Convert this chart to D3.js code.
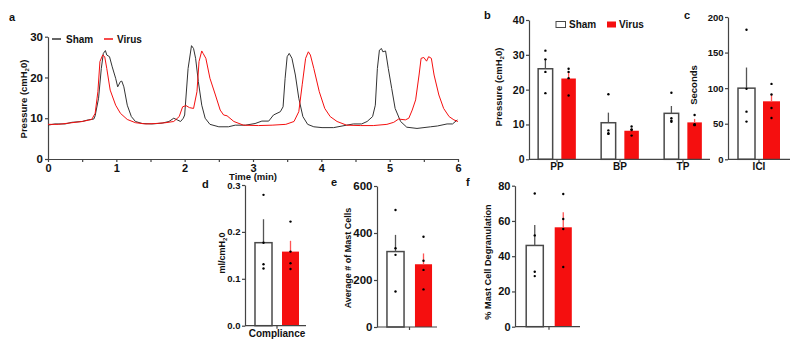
<!DOCTYPE html>
<html>
<head>
<meta charset="utf-8">
<script src="https://cdn.jsdelivr.net/npm/d3@7"></script>
<style>
  body { margin: 0; background: #fff; }
  svg text { font-family: "Liberation Sans", Arial, sans-serif; font-weight: bold; fill: #111; }
  .axis path, .axis line { stroke: #444; stroke-width: 1.2; }
</style>
</head>
<body>
<div id="chart"></div>
<script>
var width = 800, height = 347;

// panel a: pressure traces, [time (min), pressure (cmH2O)]
var shamTrace = [[0,8.3],[0.1,8.6],[0.25,8.6],[0.35,9.0],[0.5,9.2],[0.59,9.6],[0.67,9.8],[0.69,10.6],[0.74,14.9],[0.78,22.2],[0.81,25.9],[0.84,26.6],[0.86,25.5],[0.9,25.1],[0.94,22.6],[0.99,19.8],[1.02,17.7],[1.06,19.0],[1.08,19.1],[1.11,17.7],[1.16,13.2],[1.22,10.4],[1.28,9.2],[1.38,8.7],[1.52,8.6],[1.67,8.8],[1.77,9.2],[1.84,10.0],[1.89,9.6],[1.94,9.2],[1.98,10.0],[2.0,10.8],[2.05,22.2],[2.1,27.8],[2.13,27.1],[2.16,24.7],[2.2,19.0],[2.25,13.2],[2.3,10.0],[2.37,8.5],[2.5,7.9],[2.64,7.9],[2.74,8.3],[2.89,8.3],[3.03,8.7],[3.13,9.3],[3.23,9.3],[3.3,10.8],[3.4,11.6],[3.44,12.8],[3.47,19.8],[3.5,25.1],[3.53,25.9],[3.57,24.7],[3.62,20.6],[3.67,14.9],[3.73,10.4],[3.8,8.5],[3.89,7.9],[4.01,7.7],[4.18,7.7],[4.37,8.3],[4.47,8.6],[4.59,8.6],[4.67,9.2],[4.75,10.4],[4.79,13.2],[4.82,22.2],[4.85,26.7],[4.88,27.1],[4.9,26.3],[4.94,26.5],[4.98,22.2],[5.03,17.3],[5.08,12.4],[5.16,9.2],[5.25,7.8],[5.4,7.5],[5.6,7.9],[5.7,8.1],[5.84,8.6],[5.92,8.6],[5.99,9.6]];
var virusTrace = [[0,8.5],[0.15,8.5],[0.35,8.9],[0.5,9.2],[0.64,9.7],[0.69,11.2],[0.73,16.5],[0.76,23.9],[0.8,25.5],[0.83,25.1],[0.86,22.2],[0.91,16.9],[0.99,13.2],[1.06,11.2],[1.16,9.7],[1.28,8.9],[1.43,8.6],[1.57,8.7],[1.72,8.9],[1.84,9.2],[1.92,10.4],[1.97,12.8],[2.02,13.1],[2.07,12.6],[2.13,12.4],[2.18,16.5],[2.21,23.9],[2.25,26.5],[2.27,25.9],[2.31,24.7],[2.37,19.8],[2.45,15.7],[2.52,12.0],[2.57,10.8],[2.62,10.6],[2.72,9.2],[2.86,8.3],[3.08,8.2],[3.28,8.3],[3.48,8.5],[3.6,9.2],[3.67,11.6],[3.72,18.2],[3.77,24.7],[3.81,26.3],[3.84,25.5],[3.89,22.2],[3.97,16.5],[4.05,12.4],[4.13,10.4],[4.23,9.2],[4.37,8.3],[4.57,8.2],[4.76,8.2],[4.96,8.5],[5.06,9.0],[5.13,9.8],[5.23,9.6],[5.28,10.0],[5.33,12.0],[5.38,14.5],[5.43,20.6],[5.46,24.7],[5.5,24.9],[5.54,24.0],[5.57,25.1],[5.61,24.7],[5.65,20.6],[5.72,15.7],[5.79,12.4],[5.87,10.4],[5.94,9.6],[6.0,9.2]];
var traceXTicks = [0, 1, 2, 3, 4, 5, 6];
var traceYTicks = [0, 10, 20, 30];

var series = ['Sham', 'Virus'];

// panel b
var bGroups = ['PP', 'BP', 'TP'];
var bShamMean = [26.0, 10.5, 13.2];
var bShamSem = [2.7, 2.9, 2.1];
var bShamPts = [[31.2, 28.7, 25.1, 19.0], [18.7, 8.3, 7.5, 7.3], [19.1, 11.8, 10.8, 11.1]];
var bVirusMean = [23.2, 8.2, 10.6];
var bVirusSem = [1.8, 0.6, 1.0];
var bVirusPts = [[26.0, 25.1, 23.3, 18.3], [9.4, 8.6, 8.4, 6.8], [12.7, 9.8, 9.9, 10.1]];
var bTicks = [0, 10, 20, 30, 40];

// panel c
var cGroups = ['ICI'];
var cShamMean = [100];
var cShamSem = [29];
var cShamPts = [[182, 99, 67, 53]];
var cVirusMean = [81.5];
var cVirusSem = [9.5];
var cVirusPts = [[106, 91, 72, 58]];
var cTicks = [0, 50, 100, 150, 200];

// panel d
var dGroups = ['Compliance'];
var dShamMean = [0.177];
var dShamSem = [0.050];
var dShamPts = [[0.279, 0.177, 0.131, 0.122]];
var dVirusMean = [0.158];
var dVirusSem = [0.023];
var dVirusPts = [[0.222, 0.158, 0.133, 0.121]];
var dTicks = [0, 0.1, 0.2, 0.3];

// panel e
var eGroups = [''];
var eShamMean = [321];
var eShamSem = [71];
var eShamPts = [[498, 335, 307, 151]];
var eVirusMean = [267];
var eVirusSem = [46];
var eVirusPts = [[384, 282, 243, 160]];
var eTicks = [0, 200, 400, 600];

// panel f
var fGroups = [''];
var fShamMean = [46.1];
var fShamSem = [11.6];
var fShamPts = [[75.6, 51.8, 31.2, 28.7]];
var fVirusMean = [56.4];
var fVirusSem = [8.5];
var fVirusPts = [[75.3, 61.1, 55.4, 33.9]];
var fTicks = [0, 20, 40, 60, 80];

var RED = '#f50f0f';
var DARK = '#333';

var svg = d3.select('#chart').append('svg')
    .attr('width', width)
    .attr('height', height);

function letter(txt, x, y) {
    svg.append('text').attr('x', x).attr('y', y)
        .style('font-size', '11px').text(txt);
}

// rotated y title, parts: [text, subscript?, back-to-baseline?]
function yTitle(x, y, parts, size) {
    var t = svg.append('text')
        .attr('transform', 'translate(' + x + ',' + y + ') rotate(-90)')
        .attr('text-anchor', 'middle')
        .style('font-size', (size || 9.5) + 'px');
    parts.forEach(function (p) {
        var s = t.append('tspan').text(p[0]);
        if (p[1]) s.style('font-size', '6px').attr('dy', 2);
        if (p[2]) s.attr('dy', -2);
    });
}

// ---------- panel a ----------
var ax = d3.scaleLinear().domain([0, 6]).range([48, 458]);
var ay = d3.scaleLinear().domain([0, 30]).range([159, 36.7]);

svg.append('g').attr('class', 'axis')
    .attr('transform', 'translate(0,' + ay(0) + ')')
    .call(d3.axisBottom(ax).tickValues(d3.range(0, 6.01, 0.5)).tickSize(3).tickPadding(2).tickSizeOuter(0)
        .tickFormat(function (d) { return traceXTicks.indexOf(d) >= 0 ? d : ''; }))
    .call(function (g) { g.selectAll('text').style('font-size', '11px').attr('dy', '0.7em'); });

svg.append('g').attr('class', 'axis')
    .attr('transform', 'translate(' + ax(0) + ',0)')
    .call(d3.axisLeft(ay).tickValues(traceYTicks).tickSize(3).tickPadding(2).tickSizeOuter(0))
    .call(function (g) { g.selectAll('text').style('font-size', '11.5px'); });

var line = d3.line().x(function (d) { return ax(d[0]); }).y(function (d) { return ay(d[1]); });
svg.append('path').datum(shamTrace).attr('d', line)
    .attr('fill', 'none').attr('stroke', DARK).attr('stroke-width', 1);
svg.append('path').datum(virusTrace).attr('d', line)
    .attr('fill', 'none').attr('stroke', RED).attr('stroke-width', 1);

svg.append('text').attr('x', (ax(0) + ax(6)) / 2).attr('y', 179.5)
    .attr('text-anchor', 'middle').style('font-size', '9.5px').text('Time (min)');
yTitle(27, 99, [['Pressure (cmH'], ['2', true], ['0)', false, true]]);
letter('a', 9, 21);

// legend a
svg.append('line').attr('x1', 52).attr('x2', 61).attr('y1', 39).attr('y2', 39).attr('stroke', DARK).attr('stroke-width', 1.5);
svg.append('text').attr('x', 66).attr('y', 42.5).style('font-size', '10px').text('Sham');
svg.append('line').attr('x1', 104).attr('x2', 113).attr('y1', 39).attr('y2', 39).attr('stroke', RED).attr('stroke-width', 1.5);
svg.append('text').attr('x', 117).attr('y', 42.5).style('font-size', '10px').text('Virus');

// ---------- bar panels ----------
function barPanel(p) {
    var y = d3.scaleLinear().domain([0, p.yMax]).range([p.yBottom, p.yTop]);
    var x = d3.scaleBand().domain(p.groups).range(p.band);
    var xs = d3.scaleBand().domain(series).range([-p.step, p.step])
        .paddingInner(p.pad).paddingOuter(p.pad / 2);

    var rows = [];
    p.groups.forEach(function (g, i) {
        rows.push({ g: g, s: 'Sham', m: p.shamMean[i], e: p.shamSem[i], pts: p.shamPts[i] });
        rows.push({ g: g, s: 'Virus', m: p.virusMean[i], e: p.virusSem[i], pts: p.virusPts[i] });
    });
    function cx(d) { return x(d.g) + x.bandwidth() / 2 + xs(d.s) + xs.bandwidth() / 2; }

    var bars = svg.append('g');
    bars.selectAll('rect').data(rows).enter().append('rect')
        .attr('x', function (d) { return cx(d) - xs.bandwidth() / 2; })
        .attr('y', function (d) { return y(d.m); })
        .attr('width', xs.bandwidth())
        .attr('height', function (d) { return y(0) - y(d.m); })
        .attr('fill', function (d) { return d.s === 'Sham' ? '#fff' : RED; })
        .attr('stroke', function (d) { return d.s === 'Sham' ? '#4a4a4a' : 'none'; })
        .attr('stroke-width', 1.5);

    bars.selectAll('line.err').data(rows).enter().append('line')
        .attr('class', 'err')
        .attr('x1', cx).attr('x2', cx)
        .attr('y1', function (d) { return y(d.m); })
        .attr('y2', function (d) { return y(d.m + d.e); })
        .attr('stroke', function (d) { return d.s === 'Sham' ? '#555' : '#f55'; })
        .attr('stroke-width', 1.3);

    rows.forEach(function (d) {
        bars.selectAll(null).data(d.pts).enter().append('circle')
            .attr('cx', cx(d)).attr('cy', function (v) { return y(v); })
            .attr('r', 1.2).attr('fill', '#000');
    });

    svg.append('g').attr('class', 'axis')
        .attr('transform', 'translate(' + p.axisX + ',0)')
        .call(d3.axisLeft(y).tickValues(p.ticks).tickSize(3).tickPadding(1.5).tickSizeOuter(0)
            .tickFormat(p.fmt || d3.format('d')))
        .call(function (g) { g.selectAll('text').style('font-size', p.tickFont + 'px'); });

    var xa = svg.append('g').attr('class', 'axis');
    xa.append('line').attr('x1', p.axisX).attr('x2', p.axisEnd)
        .attr('y1', y(0)).attr('y2', y(0));
    xa.selectAll('line.tk').data(p.groups).enter().append('line')
        .attr('class', 'tk')
        .attr('x1', function (g) { return x(g) + x.bandwidth() / 2; })
        .attr('x2', function (g) { return x(g) + x.bandwidth() / 2; })
        .attr('y1', y(0)).attr('y2', y(0) + 3);
    xa.selectAll('text').data(p.groups).enter().append('text')
        .attr('x', function (g) { return x(g) + x.bandwidth() / 2; })
        .attr('y', y(0) + 11)
        .attr('text-anchor', 'middle').style('font-size', '10px')
        .text(function (g) { return g; });
}

barPanel({ groups: bGroups, shamMean: bShamMean, shamSem: bShamSem, shamPts: bShamPts,
    virusMean: bVirusMean, virusSem: bVirusSem, virusPts: bVirusPts, ticks: bTicks,
    yMax: 40, yBottom: 159.3, yTop: 20, axisX: 529, axisEnd: 710,
    band: [525.5, 714.5], step: 23.2, pad: 0.375, tickFont: 10.5 });
yTitle(502, 87, [['Pressure (cmH'], ['2', true], ['0)', false, true]]);
letter('b', 484, 19);

// legend b
svg.append('rect').attr('x', 556).attr('y', 21.5).attr('width', 9.5).attr('height', 6)
    .attr('fill', '#fff').attr('stroke', '#4a4a4a').attr('stroke-width', 1);
svg.append('text').attr('x', 569).attr('y', 28).style('font-size', '10px').text('Sham');
svg.append('rect').attr('x', 607).attr('y', 21.5).attr('width', 9).attr('height', 6).attr('fill', RED);
svg.append('text').attr('x', 619).attr('y', 28).style('font-size', '10px').text('Virus');

barPanel({ groups: cGroups, shamMean: cShamMean, shamSem: cShamSem, shamPts: cShamPts,
    virusMean: cVirusMean, virusSem: cVirusSem, virusPts: cVirusPts, ticks: cTicks,
    yMax: 200, yBottom: 159.3, yTop: 17, axisX: 728, axisEnd: 790,
    band: [728, 790], step: 25, pad: 0.32, tickFont: 9.5 });
yTitle(697, 85, [['Seconds']]);
letter('c', 684, 19);

barPanel({ groups: dGroups, shamMean: dShamMean, shamSem: dShamSem, shamPts: dShamPts,
    virusMean: dVirusMean, virusSem: dVirusSem, virusPts: dVirusPts, ticks: dTicks,
    yMax: 0.3, yBottom: 325.7, yTop: 185, axisX: 245, axisEnd: 306,
    band: [245, 309], step: 27, pad: 0.37, fmt: d3.format('.1f'), tickFont: 9.5 });
yTitle(225, 253, [['ml/cmH'], ['2', true], ['0', false, true]], 9);
letter('d', 202, 188);

barPanel({ groups: eGroups, shamMean: eShamMean, shamSem: eShamSem, shamPts: eShamPts,
    virusMean: eVirusMean, virusSem: eVirusSem, virusPts: eVirusPts, ticks: eTicks,
    yMax: 600, yBottom: 327, yTop: 186, axisX: 377, axisEnd: 437,
    band: [377, 442], step: 28, pad: 0.39, tickFont: 11.5 });
yTitle(351, 258, [['Average # of Mast Cells']], 9);
letter('e', 331, 186);

barPanel({ groups: fGroups, shamMean: fShamMean, shamSem: fShamSem, shamPts: fShamPts,
    virusMean: fVirusMean, virusSem: fVirusSem, virusPts: fVirusPts, ticks: fTicks,
    yMax: 80, yBottom: 326.7, yTop: 185.7, axisX: 515, axisEnd: 580,
    band: [515, 583], step: 28.5, pad: 0.4, tickFont: 11 });
yTitle(491, 262, [['% Mast Cell Degranulation']], 9.2);
letter('f', 466, 186);
</script>
</body>
</html>
